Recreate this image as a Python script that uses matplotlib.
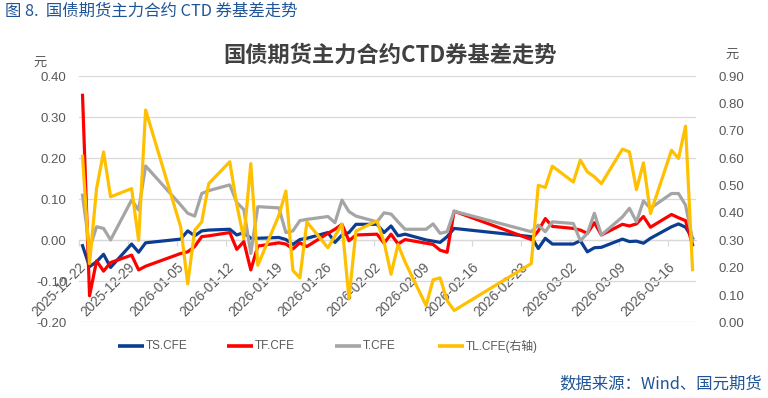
import matplotlib
matplotlib.use("Agg")
import matplotlib.pyplot as plt
import matplotlib.dates as mdates
from matplotlib.lines import Line2D
import pandas as pd
import numpy as np

# ---------------- data ----------------
dates = ["2025-12-22", "2025-12-23", "2025-12-24", "2025-12-25", "2025-12-26",
         "2025-12-29", "2025-12-30", "2025-12-31",
         "2026-01-05", "2026-01-06", "2026-01-07", "2026-01-08", "2026-01-09",
         "2026-01-12", "2026-01-13", "2026-01-14", "2026-01-15", "2026-01-16",
         "2026-01-19", "2026-01-20", "2026-01-21", "2026-01-22", "2026-01-23",
         "2026-01-26", "2026-01-27", "2026-01-28", "2026-01-29", "2026-01-30",
         "2026-02-02", "2026-02-03", "2026-02-04", "2026-02-05", "2026-02-06",
         "2026-02-09", "2026-02-10", "2026-02-11", "2026-02-12", "2026-02-13",
         "2026-02-24", "2026-02-25", "2026-02-26", "2026-02-27",
         "2026-03-02", "2026-03-03", "2026-03-04", "2026-03-05", "2026-03-06",
         "2026-03-09", "2026-03-10", "2026-03-11", "2026-03-12", "2026-03-13",
         "2026-03-16", "2026-03-17", "2026-03-18", "2026-03-19"]

ts_cfe = [-0.013, -0.064, -0.052, -0.034, -0.066,
          -0.009, -0.029, -0.006,
          0.003, 0.023, 0.011, 0.023, 0.025,
          0.027, 0.013, 0.019, 0.005, 0.005,
          0.007, 0.002, -0.010, 0.002, 0.005,
          0.019, -0.005, 0.013, 0.019, 0.039,
          0.039, 0.019, 0.035, 0.011, 0.015,
          0.001, -0.002, -0.005, 0.009, 0.029,
          0.009, -0.020, 0.005, -0.009,
          -0.009, -0.001, -0.028, -0.018, -0.017,
          0.003, -0.003, -0.002, -0.007, 0.005,
          0.033, 0.040, 0.032, 0.005]

tf_cfe = [0.353, -0.135, -0.050, -0.075, -0.054,
          -0.036, -0.072, -0.063,
          -0.032, -0.028, -0.015, 0.009, 0.011,
          0.019, -0.022, -0.003, -0.072, -0.014,
          -0.006, -0.009, -0.021, -0.006, -0.015,
          0.017, 0.027, 0.039, -0.001, 0.013,
          0.015, -0.007, 0.015, -0.009, 0.002,
          -0.007, -0.010, -0.024, -0.029, 0.071,
          0.002, 0.023, 0.053, 0.034,
          0.029, 0.025, 0.017, 0.043, 0.013,
          0.039, 0.035, 0.040, 0.058, 0.032,
          0.063, 0.055, 0.048, -0.011]

t_cfe = [0.110, -0.020, 0.033, 0.029, 0.001,
         0.098, 0.074, 0.181,
         0.086, 0.066, 0.059, 0.114, 0.121,
         0.135, 0.092, 0.075, -0.032, 0.082,
         0.079, 0.019, 0.023, 0.048, 0.051,
         0.058, 0.043, 0.098, 0.070, 0.059,
         0.045, 0.067, 0.064, 0.045, 0.027,
         0.027, 0.040, 0.017, 0.021, 0.071,
         0.021, 0.037, 0.021, 0.045,
         0.041, -0.001, 0.017, 0.066, 0.013,
         0.057, 0.078, 0.045, 0.096, 0.078,
         0.114, 0.114, 0.086, 0.001]

tl_cfe = [0.607, 0.215, 0.489, 0.623, 0.459,
          0.489, 0.300, 0.776,
          0.349, 0.141, 0.337, 0.367, 0.507,
          0.587, 0.430, 0.306, 0.580, 0.209,
          0.391, 0.480, 0.190, 0.163, 0.367,
          0.273, 0.316, 0.359, 0.087, 0.334,
          0.371, 0.294, 0.176, 0.285, 0.221,
          0.062, 0.156, 0.163, 0.080, 0.044,
          0.215, 0.501, 0.493, 0.571,
          0.513, 0.593, 0.550, 0.532, 0.507,
          0.633, 0.623, 0.485, 0.583, 0.398,
          0.629, 0.599, 0.717, 0.193]

series_names = ["TS.CFE", "TF.CFE", "T.CFE", "TL.CFE(右轴)"]
series_colors = ["#0B3D91", "#FF0000", "#A5A5A5", "#FFC000"]

title = "国债期货主力合约CTD券基差走势"
header = "图 8.  国债期货主力合约 CTD 券基差走势"
source = "数据来源：Wind、国元期货"

left_ticks = [-0.20, -0.10, 0.00, 0.10, 0.20, 0.30, 0.40]
right_ticks = [0.00, 0.10, 0.20, 0.30, 0.40, 0.50, 0.60, 0.70, 0.80, 0.90]
x_start, x_end = "2025-12-22", "2026-03-20"
x_tick_dates = pd.date_range("2025-12-22", "2026-03-16", freq="7D")

# ---------------- style ----------------
plt.rcParams["font.family"] = ["Liberation Sans", "Noto Sans CJK SC", "DejaVu Sans"]
tick_color = "#595959"
grid_color = "#D9D9D9"
blue_text = "#1F5597"

x = pd.to_datetime(dates) + pd.Timedelta(hours=12)

fig = plt.figure(figsize=(7.68, 3.98), dpi=100)
ax = fig.add_axes([0.1029, 0.1897, 0.8034, 0.6193])
ax2 = ax.twinx()

lw = 2.3
ax.plot(x, ts_cfe, color=series_colors[0], lw=lw, solid_joinstyle="round", zorder=3)
ax.plot(x, tf_cfe, color=series_colors[1], lw=lw, solid_joinstyle="round", zorder=4)
ax.plot(x, t_cfe, color=series_colors[2], lw=lw, solid_joinstyle="round", zorder=5)
ax2.plot(x, tl_cfe, color=series_colors[3], lw=lw, solid_joinstyle="round", zorder=3)

ax.set_ylim(-0.2, 0.4)
ax2.set_ylim(0.0, 0.9)
ax.set_xlim(pd.Timestamp(x_start), pd.Timestamp(x_end))

ax.set_yticks(left_ticks)
ax.set_yticklabels([f"{v:.2f}" for v in left_ticks])
ax2.set_yticks(right_ticks)
ax2.set_yticklabels([f"{v:.2f}" for v in right_ticks])

ax.grid(axis="y", color=grid_color, lw=0.9)
ax.set_axisbelow(True)

for sp in ["top", "right", "left"]:
    ax.spines[sp].set_visible(False)
for sp in ax2.spines.values():
    sp.set_visible(False)
ax.spines["bottom"].set_position(("data", 0))
ax.spines["bottom"].set_color(grid_color)
ax.spines["bottom"].set_linewidth(0.9)

ax.tick_params(axis="y", length=0, labelsize=9.5, labelcolor=tick_color, pad=9)
ax2.tick_params(axis="y", length=0, labelsize=9.5, labelcolor=tick_color, pad=16)

ax.set_xticks(x_tick_dates)
ax.xaxis.set_major_formatter(mdates.DateFormatter("%Y-%m-%d"))
ax.tick_params(axis="x", direction="out", length=4, width=0.9, color=grid_color,
               labelsize=9.8, labelcolor=tick_color, pad=10)
for lab in ax.get_xticklabels():
    lab.set_rotation(45)
    lab.set_ha("right")
    lab.set_va("top")
    lab.set_rotation_mode("anchor")

# texts
fig.text(0.5078, 0.862, title, ha="center", va="center", fontsize=16,
         fontweight="bold", color="#404040",
         family=["Noto Sans CJK SC", "DejaVu Sans"])
fig.text(0.006, 0.972, header, ha="left", va="center", fontsize=11.8,
         color=blue_text, family=["Noto Sans CJK SC", "DejaVu Sans"])
fig.text(0.992, 0.035, source, ha="right", va="center", fontsize=11.8,
         color=blue_text, family=["Noto Sans CJK SC", "DejaVu Sans"])
fig.text(40 / 768, 1 - 62 / 398, "元", ha="center", va="center", fontsize=9.5,
         color=tick_color, family=["Noto Sans CJK SC", "DejaVu Sans"])
fig.text(732 / 768, 1 - 54 / 398, "元", ha="center", va="center", fontsize=9.5,
         color=tick_color, family=["Noto Sans CJK SC", "DejaVu Sans"])

# legend (manual, Excel-like fixed spacing)
leg_y = 1 - 346 / 398
leg_x = [118, 227, 335, 438]
for name, col, lx in zip(series_names, series_colors, leg_x):
    fig.add_artist(Line2D([lx / 768, (lx + 26) / 768], [leg_y, leg_y],
                          color=col, lw=2.6, solid_capstyle="butt"))
    fig.text((lx + 28) / 768, leg_y, name, ha="left", va="center", fontsize=8.5,
             color=tick_color)

fig.savefig("out.png", dpi=100)
